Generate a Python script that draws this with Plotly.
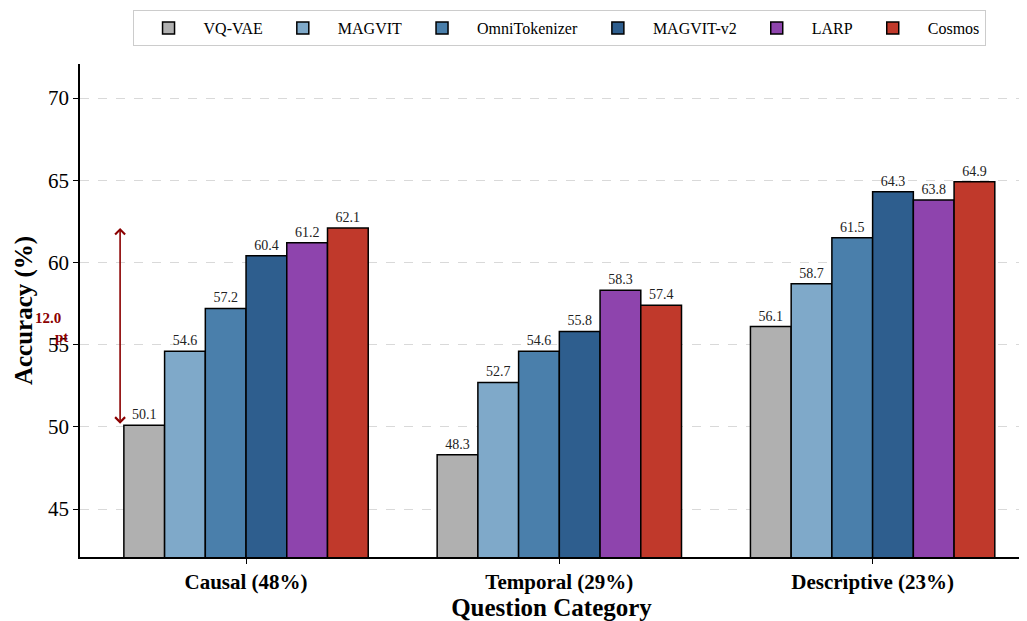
import plotly.graph_objects as go

categories = ["Causal (48%)", "Temporal (29%)", "Descriptive (23%)"]
models = ["VQ-VAE", "MAGVIT", "OmniTokenizer", "MAGVIT-v2", "LARP", "Cosmos"]
vq_vae = [50.1, 48.3, 56.1]
magvit = [54.6, 52.7, 58.7]
omnitokenizer = [57.2, 54.6, 61.5]
magvit_v2 = [60.4, 55.8, 64.3]
larp = [61.2, 58.3, 63.8]
cosmos = [62.1, 57.4, 64.9]
series = [vq_vae, magvit, omnitokenizer, magvit_v2, larp, cosmos]
colors = ["#b0b0b0", "#7fa9c9", "#4a7fab", "#2e5e8e", "#8e44ad", "#c0392b"]
yticks = [45, 50, 55, 60, 65, 70]

FONT = "Liberation Serif, Times New Roman, serif"

fig = go.Figure()
for name, vals, col in zip(models, series, colors):
    fig.add_trace(go.Bar(
        x=categories, y=vals, name=name,
        marker=dict(color=col, line=dict(color="black", width=1.5)),
        text=[f"{v:.1f}" for v in vals], textposition="outside",
        textfont=dict(size=14, color="#222", family=FONT),
        cliponaxis=False,
    ))

gap = cosmos[0] - vq_vae[0]
fig.add_annotation(x=-0.402, y=cosmos[0], ax=-0.402, ay=vq_vae[0],
                   xref="x", yref="y", axref="x", ayref="y",
                   showarrow=True, arrowside="end+start", arrowhead=4,
                   startarrowhead=4, arrowsize=1.2, arrowwidth=1.6,
                   startarrowsize=1.2, arrowcolor="#8b0000", text="")
fig.add_annotation(x=-0.050, y=56.6, xref="paper", yref="y",
                   text=f"<b>{gap:.1f}</b>", showarrow=False,
                   font=dict(size=15, color="#8b0000", family=FONT))
fig.add_annotation(x=-0.0285, y=55.45, xref="paper", yref="y",
                   text="<b>pt</b>", showarrow=False,
                   font=dict(size=15, color="#8b0000", family=FONT))

fig.update_layout(
    width=1019, height=613,
    margin=dict(l=72, r=4, t=56, b=64, autoexpand=False),
    plot_bgcolor="white", paper_bgcolor="white",
    barmode="group", bargap=0.22, bargroupgap=0,
    font=dict(family=FONT, color="black"),
    legend=dict(orientation="h", x=0.508, xanchor="center", y=1.1095, yanchor="top",
                bordercolor="#cccccc", borderwidth=1, font=dict(size=16),
                itemwidth=60, traceorder="normal"),
    xaxis=dict(range=[-0.53, 2.48], showline=True, linecolor="black", linewidth=1.5,
               ticks="outside", ticklen=5, tickcolor="black", automargin=False,
               tickfont=dict(size=21, family=FONT),
               tickvals=categories, ticktext=[f"<b>{c}</b>" for c in categories],
               title=dict(text="<b>Question Category</b>", font=dict(size=25), standoff=6)),
    yaxis=dict(range=[42.08, 72.07], showline=True, linecolor="black", linewidth=1.5,
               ticks="outside", ticklen=5, tickcolor="black", tickvals=yticks,
               tickfont=dict(size=21, family=FONT), automargin=False,
               showgrid=True, gridcolor="#d9d9d9", griddash="dash", gridwidth=1,
               zeroline=False,
               title=dict(text="<b>Accuracy (%)</b>", font=dict(size=25), standoff=8)),
)

fig.write_html("out.html")
